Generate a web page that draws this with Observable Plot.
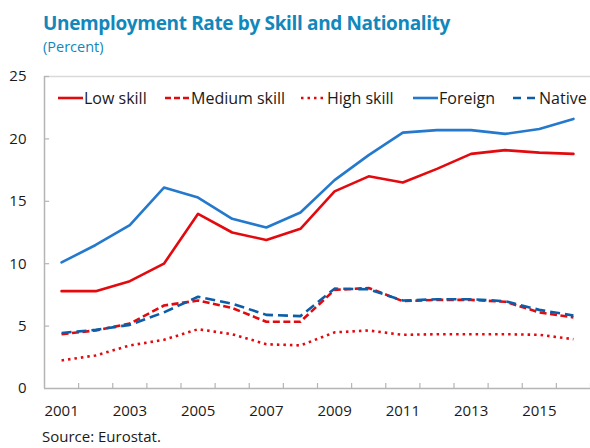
<!DOCTYPE html>
<html>
<head>
<meta charset="utf-8">
<script src="https://cdn.jsdelivr.net/npm/d3@7"></script>
<script src="https://cdn.jsdelivr.net/npm/@observablehq/plot@0.6"></script>
<style>
  body { margin: 0; background: #fff; font-family: "Open Sans", "Noto Sans", sans-serif; }
  #wrap { position: relative; width: 590px; height: 448px; overflow: hidden; }
  #title { position: absolute; left: 43px; top: 9px; font-size: 19px; letter-spacing: -0.35px; font-weight: 700; color: #1287bb; line-height: 28px; white-space: nowrap; }
  #subtitle { position: absolute; left: 43px; top: 37px; font-size: 14.5px; color: #1287bb; line-height: 20px; white-space: nowrap; }
  #chart { position: absolute; left: 0; top: 60px; }
  #legend { position: absolute; top: 87px; left: 0; width: 590px; height: 22px; font-size: 16px; color: #1a1a1a; }
  .item { position: absolute; top: 0; display: flex; align-items: center; height: 22px; white-space: nowrap; }
  .item svg { margin-right: 1px; }
  #source { position: absolute; left: 42px; top: 427px; font-size: 15px; color: #1a1a1a; line-height: 19px; white-space: nowrap; }
</style>
</head>
<body>
<div id="wrap">
  <div id="title">Unemployment Rate by Skill and Nationality</div>
  <div id="subtitle">(Percent)</div>
  <div id="chart"></div>
  <div id="legend"></div>
  <div id="source">Source: Eurostat.</div>
</div>
<script>
const years = [2001, 2002, 2003, 2004, 2005, 2006, 2007, 2008, 2009, 2010, 2011, 2012, 2013, 2014, 2015, 2016];
const lowSkill    = [7.8, 7.8, 8.6, 10.0, 14.0, 12.5, 11.9, 12.8, 15.8, 17.0, 16.5, 17.6, 18.8, 19.1, 18.9, 18.8];
const mediumSkill = [4.35, 4.65, 5.2, 6.65, 7.05, 6.45, 5.35, 5.35, 7.9, 8.05, 7.0, 7.1, 7.1, 6.95, 6.1, 5.7];
const highSkill   = [2.25, 2.65, 3.45, 3.9, 4.75, 4.35, 3.55, 3.45, 4.5, 4.65, 4.3, 4.35, 4.35, 4.35, 4.3, 3.95];
const foreign     = [10.1, 11.5, 13.1, 16.1, 15.3, 13.6, 12.9, 14.1, 16.7, 18.7, 20.5, 20.7, 20.7, 20.4, 20.8, 21.6];
const native      = [4.45, 4.7, 5.1, 6.1, 7.35, 6.8, 5.9, 5.8, 8.0, 7.95, 7.05, 7.15, 7.15, 7.0, 6.3, 5.85];
const seriesNames = ["Low skill", "Medium skill", "High skill", "Foreign", "Native"];
const yTicks = [0, 5, 10, 15, 20, 25];
const xLabelYears = [2001, 2003, 2005, 2007, 2009, 2011, 2013, 2015];

const red = "#e30a0f", blue = "#2479cc", darkBlue = "#0c5ea8";
const styles = {
  "Low skill":    {stroke: red, dash: null},
  "Medium skill": {stroke: red, dash: "7,3.5"},
  "High skill":   {stroke: red, dash: "2.5,4"},
  "Foreign":      {stroke: blue, dash: null},
  "Native":       {stroke: darkBlue, dash: "10,5"}
};
const values = [lowSkill, mediumSkill, highSkill, foreign, native];
const data = seriesNames.map((name, i) => years.map((year, j) => ({name, year, value: values[i][j]})));

const boundaries = d3.range(years.length + 1).map(i => years[0] - 0.5 + i);
const xDomain = [years[0] - 0.5, years[years.length - 1] + 0.5];

const plot = Plot.plot({
  width: 590,
  height: 365,
  marginLeft: 44,
  marginRight: 0,
  marginTop: 16,
  marginBottom: 37,
  x: {domain: xDomain},
  y: {domain: [0, 25]},
  style: {fontFamily: "'Open Sans', 'Noto Sans', sans-serif", fontSize: "15px", color: "#1a1a1a", background: "#fff"},
  marks: [
    Plot.ruleY([25], {stroke: "#d9d9d9", strokeWidth: 1.5}),
    Plot.ruleY([0], {stroke: "#b5b5b5", strokeWidth: 1.5}),
    Plot.ruleX([xDomain[0]], {stroke: "#b5b5b5", strokeWidth: 1.5}),
    Plot.ruleX(boundaries.slice(1), {y1: 0, y2: 0.4, stroke: "#b5b5b5", strokeWidth: 1.2}),
    Plot.ruleY(yTicks.slice(1), {x1: xDomain[0], x2: xDomain[0] + 0.15, stroke: "#b5b5b5", strokeWidth: 1.2}),
    ...data.map(d => Plot.line(d, {
      x: "year", y: "value",
      stroke: styles[d[0].name].stroke,
      strokeWidth: 2.6,
      strokeDasharray: styles[d[0].name].dash,
      strokeLinecap: styles[d[0].name].dash ? "butt" : "round",
      strokeLinejoin: "round"
    })),
    Plot.axisX(xLabelYears, {tickSize: 0, tickPadding: 17, tickFormat: d => String(d), label: null, fill: "#1a1a1a"}),
    Plot.axisY(yTicks, {tickSize: 0, tickPadding: 18, label: null, fill: "#1a1a1a"})
  ]
});
document.getElementById("chart").appendChild(plot);

// legend
const legendPos = {"Low skill": 58, "Medium skill": 165, "High skill": 301, "Foreign": 413, "Native": 513};
const legend = document.getElementById("legend");
seriesNames.forEach(name => {
  const s = styles[name];
  const item = document.createElement("div");
  item.className = "item";
  item.style.left = legendPos[name] + "px";
  item.innerHTML = `<svg width="25" height="10"><line x1="0" y1="5" x2="25" y2="5" stroke="${s.stroke}" stroke-width="2.6" ${s.dash ? `stroke-dasharray="${name === "Native" ? "8,6" : name === "Medium skill" ? "6,3" : s.dash}"` : ""}/></svg><span>${name}</span>`;
  legend.appendChild(item);
});
</script>
</body>
</html>
